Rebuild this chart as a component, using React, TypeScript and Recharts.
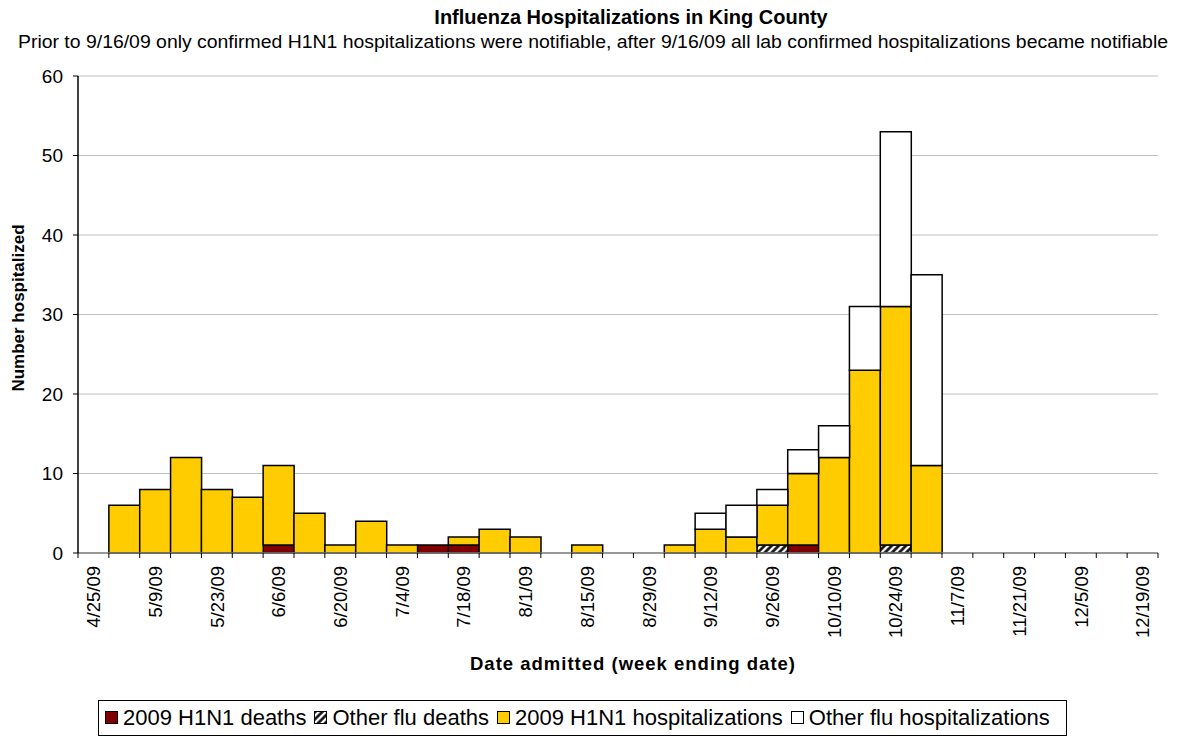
import React from 'react';
import {
  BarChart, Bar, XAxis, YAxis, CartesianGrid, Legend,
} from 'recharts';

const WEEKS = [
  '4/25/09', '5/2/09', '5/9/09', '5/16/09', '5/23/09', '5/30/09', '6/6/09', '6/13/09',
  '6/20/09', '6/27/09', '7/4/09', '7/11/09', '7/18/09', '7/25/09', '8/1/09', '8/8/09',
  '8/15/09', '8/22/09', '8/29/09', '9/5/09', '9/12/09', '9/19/09', '9/26/09', '10/3/09',
  '10/10/09', '10/17/09', '10/24/09', '10/31/09', '11/7/09', '11/14/09', '11/21/09',
  '11/28/09', '12/5/09', '12/12/09', '12/19/09',
];

// stacked segments, bottom to top
const H1N1_DEATHS = [0, 0, 0, 0, 0, 0, 1, 0, 0, 0, 0, 1, 1, 0, 0, 0, 0, 0, 0, 0, 0, 0, 0, 1, 0, 0, 0, 0, 0, 0, 0, 0, 0, 0, 0];
const OTHER_DEATHS = [0, 0, 0, 0, 0, 0, 0, 0, 0, 0, 0, 0, 0, 0, 0, 0, 0, 0, 0, 0, 0, 0, 1, 0, 0, 0, 1, 0, 0, 0, 0, 0, 0, 0, 0];
const H1N1_HOSP = [0, 6, 8, 12, 8, 7, 10, 5, 1, 4, 1, 0, 1, 3, 2, 0, 1, 0, 0, 1, 3, 2, 5, 9, 12, 23, 30, 11, 0, 0, 0, 0, 0, 0, 0];
const OTHER_HOSP = [0, 0, 0, 0, 0, 0, 0, 0, 0, 0, 0, 0, 0, 0, 0, 0, 0, 0, 0, 0, 2, 4, 2, 3, 4, 8, 22, 24, 0, 0, 0, 0, 0, 0, 0];

const Y_TICKS = [0, 10, 20, 30, 40, 50, 60];
const SERIES_ORDER = ['h1n1Deaths', 'otherDeaths', 'h1n1Hosp', 'otherHosp'];

const data = WEEKS.map((week, i) => ({
  week,
  h1n1Deaths: H1N1_DEATHS[i],
  otherDeaths: OTHER_DEATHS[i],
  h1n1Hosp: H1N1_HOSP[i],
  otherHosp: OTHER_HOSP[i],
}));

const FONT = '"Liberation Sans", Arial, sans-serif';
const CHART_W = 1182;
const CHART_H = 737;
const MARGIN = { top: 76, right: 24, bottom: 0, left: 0 };
const BAND = (CHART_W - 78 - MARGIN.right) / WEEKS.length;

function WeekTick(props: any) {
  const { x, y, payload, index } = props;
  const half = payload && payload.offset ? payload.offset : BAND / 2;
  const last = index === WEEKS.length - 1;
  return (
    <g>
      <line x1={x - half} x2={x - half} y1={y - 5} y2={y} stroke="#000" strokeWidth={1} />
      {last && <line x1={x + half} x2={x + half} y1={y - 5} y2={y} stroke="#000" strokeWidth={1} />}
      {index % 2 === 0 && (
        <text
          transform={`translate(${x},${y + 8}) rotate(-90)`}
          textAnchor="end"
          dy="0.36em"
          fontSize={18.5}
          fontFamily={FONT}
          fill="#000"
        >
          {payload.value}
        </text>
      )}
    </g>
  );
}

function LegendBox(props: any) {
  const items = [...(props.payload || [])].sort(
    (a: any, b: any) => SERIES_ORDER.indexOf(a.dataKey) - SERIES_ORDER.indexOf(b.dataKey),
  );
  return (
    <div
      style={{
        border: '1px solid #000',
        display: 'inline-flex',
        alignItems: 'center',
        height: 34,
        padding: '0 8px 0 6px',
        fontFamily: FONT,
        fontSize: 22,
        whiteSpace: 'nowrap',
        background: '#fff',
      }}
    >
      {items.map((entry: any) => (
        <span key={entry.value} style={{ display: 'flex', alignItems: 'center', marginRight: 8 }}>
          <svg width={14} height={14} style={{ marginRight: 4 }}>
            <rect x={0.5} y={0.5} width={12} height={12} fill={entry.color} stroke="#000" strokeWidth={1} />
          </svg>
          {entry.value}
        </span>
      ))}
    </div>
  );
}

export default function App() {
  return (
    <div style={{ position: 'absolute', left: 0, top: 0, width: CHART_W, height: CHART_H, background: '#fff' }}>
      <BarChart
        width={CHART_W}
        height={CHART_H}
        data={data}
        margin={MARGIN}
        barCategoryGap={0}
        barGap={0}
      >
        <defs>
          <pattern id="hatch" patternUnits="userSpaceOnUse" width={5} height={5} patternTransform="rotate(45)">
            <rect width={5} height={5} fill="#fff" />
            <line x1={1.5} y1={0} x2={1.5} y2={5} stroke="#000" strokeWidth={2.5} />
          </pattern>
        </defs>
        <text x={631} y={24} textAnchor="middle" fontFamily={FONT} fontSize={20} fontWeight="bold" fill="#000">
          Influenza Hospitalizations in King County
        </text>
        <text
          x={593}
          y={48}
          textAnchor="middle"
          fontFamily={FONT}
          fontSize={17.5}
          textLength={1150}
          lengthAdjust="spacingAndGlyphs"
          fill="#000"
        >
          Prior to 9/16/09 only confirmed H1N1 hospitalizations were notifiable, after 9/16/09 all lab confirmed hospitalizations became notifiable
        </text>
        <text
          transform="translate(24,308) rotate(-90)"
          textAnchor="middle"
          fontFamily={FONT}
          fontSize={17}
          fontWeight="bold"
          fill="#000"
        >
          Number hospitalized
        </text>
        <text x={633} y={670} textAnchor="middle" fontFamily={FONT} fontSize={18.5} fontWeight="bold" letterSpacing={1} fill="#000">
          Date admitted (week ending date)
        </text>
        <CartesianGrid vertical={false} stroke="#c0c0c0" strokeWidth={1} />
        <XAxis
          dataKey="week"
          interval={0}
          tick={<WeekTick />}
          tickLine={false}
          tickSize={5}
          tickMargin={0}
          axisLine={{ stroke: '#808080', strokeWidth: 1.5 }}
          height={CHART_H - 553 - MARGIN.bottom}
        />
        <YAxis
          domain={[0, 60]}
          ticks={Y_TICKS}
          interval={0}
          width={78}
          tickSize={5}
          tickMargin={10}
          tickLine={{ stroke: '#000' }}
          axisLine={{ stroke: '#000', strokeWidth: 1.5 }}
          tick={{ fill: '#000', fontSize: 19, fontFamily: FONT }}
        />
        <Legend
          layout="horizontal"
          verticalAlign="middle"
          align="center"
          content={<LegendBox />}
          wrapperStyle={{ left: 98, top: 700, width: 'auto' }}
        />
        <Bar dataKey="h1n1Deaths" name="2009 H1N1 deaths" stackId="a" fill="#800000" stroke="#000" strokeWidth={1.5} isAnimationActive={false} />
        <Bar dataKey="otherDeaths" name="Other flu deaths" stackId="a" fill="url(#hatch)" stroke="#000" strokeWidth={1.5} isAnimationActive={false} />
        <Bar dataKey="h1n1Hosp" name="2009 H1N1 hospitalizations" stackId="a" fill="#FFCC00" stroke="#000" strokeWidth={1.5} isAnimationActive={false} />
        <Bar dataKey="otherHosp" name="Other flu hospitalizations" stackId="a" fill="#fff" stroke="#000" strokeWidth={1.5} isAnimationActive={false} />
      </BarChart>
    </div>
  );
}
